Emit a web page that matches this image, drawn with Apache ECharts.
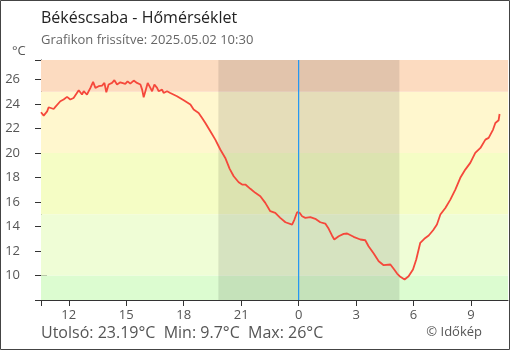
<!DOCTYPE html>
<html>
<head>
<meta charset="utf-8">
<script src="https://cdn.jsdelivr.net/npm/echarts@6/dist/echarts.min.js"></script>
<style>
html,body{margin:0;padding:0;background:#fff;}
#c{width:510px;height:350px;}
</style>
</head>
<body>
<div id="c"></div>
<script>
// hours relative to midnight (negative = previous day)
var hours = [-13.45,-13.31,-13.13,-13.05,-12.79,-12.70,-12.44,-12.27,-12.09,-11.92,-11.75,-11.48,-11.31,-11.22,-11.05,-10.87,-10.73,-10.61,-10.44,-10.26,-10.14,-10.04,-9.92,-9.74,-9.62,-9.48,-9.31,-9.05,-8.93,-8.79,-8.61,-8.44,-8.26,-8.17,-8.09,-8.00,-7.88,-7.74,-7.65,-7.53,-7.39,-7.31,-7.13,-7.05,-6.87,-6.79,-6.70,-6.35,-6.00,-5.65,-5.48,-5.22,-5.04,-4.87,-4.61,-4.35,-4.09,-3.83,-3.60,-3.39,-3.13,-2.95,-2.78,-2.52,-2.26,-2.00,-1.74,-1.48,-1.22,-0.96,-0.69,-0.34,-0.22,-0.08,0.05,0.18,0.35,0.61,0.87,1.13,1.39,1.57,1.74,1.86,2.09,2.35,2.53,2.87,3.22,3.48,3.65,3.92,4.18,4.44,4.79,4.96,5.14,5.31,5.53,5.74,5.97,6.14,6.35,6.56,6.79,7.02,7.22,7.40,7.66,7.92,8.18,8.44,8.70,8.96,9.22,9.49,9.75,9.92,10.15,10.27,10.44,10.49];
var temps = [23.33,23.06,23.40,23.74,23.60,23.77,24.23,24.37,24.59,24.37,24.50,25.13,24.78,25.05,24.78,25.32,25.81,25.32,25.46,25.51,25.73,24.97,25.60,25.73,25.95,25.60,25.78,25.65,25.86,25.67,25.92,25.73,25.60,25.18,24.56,25.05,25.73,25.32,25.05,25.60,25.32,25.05,25.18,24.91,25.05,25.18,24.91,24.64,24.31,23.96,23.55,23.28,22.87,22.46,21.78,21.10,20.29,19.60,18.71,18.11,17.62,17.43,17.43,17.08,16.75,16.48,15.93,15.25,15.12,14.71,14.35,14.16,14.57,15.17,15.12,14.84,14.71,14.76,14.63,14.35,14.24,13.81,13.27,12.94,13.21,13.40,13.43,13.16,12.94,12.88,12.39,11.80,11.17,10.84,10.90,10.55,10.16,9.89,9.67,9.94,10.49,11.31,12.67,13.00,13.27,13.70,14.16,14.98,15.52,16.20,17.02,17.98,18.65,19.20,20.02,20.42,21.10,21.24,21.92,22.46,22.68,23.19];
var xLabelHours = [-12,-9,-6,-3,0,3,6,9];
var xRange = [-13.45, 10.93];
var yRange = [8, 27.6];
var yLabelValues = [10,12,14,16,18,20,22,24,26];
var bandEdges = [8,10,15,20,25,27.6];
var bandColors = ['#dcfcd0','#effdd6','#f5fdc5','#fff7ce','#fcdbc0'];
var night = [-4.19, 5.26];
var midnight = 0;
var title = 'Békéscsaba - Hőmérséklet';
var subtitle = 'Grafikon frissítve: 2025.05.02 10:30';
var footer = 'Utolsó: 23.19°C  Min: 9.7°C  Max: 26°C';
var credit = '© Időkép';

var FONT = '"Open Sans", sans-serif';
var lineData = hours.map(function(h,i){return [h,temps[i]];});
var bands = [];
for (var i=0;i<bandColors.length;i++){
  bands.push([{yAxis:bandEdges[i], itemStyle:{color:bandColors[i]}, label:{show:false}},{yAxis:bandEdges[i+1]}]);
}
function fmtH(v){ return String(((Math.round(v)%24)+24)%24); }

var chart = echarts.init(document.getElementById('c'), null, {renderer:'canvas'});
var axisCommonX = {type:'value', min:xRange[0], max:xRange[1], splitLine:{show:false}, position:'bottom'};
var axisCommonY = {type:'value', min:yRange[0], max:yRange[1], interval:2, splitLine:{show:false}, position:'left'};
var xTickVals = [xRange[0]].concat(xLabelHours);
chart.setOption({
  animation:false,
  grid:{left:41, right:2, top:60, bottom:50, containLabel:false, outerBoundsMode:'none'},
  xAxis:[
    Object.assign({}, axisCommonX, {
      axisLine:{show:true, onZero:false, lineStyle:{color:'#333', width:1}},
      axisTick:{show:true, length:6, inside:false, customValues:xTickVals, lineStyle:{color:'#333'}},
      axisLabel:{show:true, customValues:xLabelHours, formatter:fmtH, color:'#555', fontSize:13, fontFamily:FONT, margin:9}
    }),
    Object.assign({}, axisCommonX, {
      axisLine:{show:false, onZero:false},
      axisTick:{show:true, length:6, inside:true, customValues:xTickVals, lineStyle:{color:'#333'}},
      axisLabel:{show:false}
    })
  ],
  yAxis:[
    Object.assign({}, axisCommonY, {
      axisLine:{show:true, onZero:false, lineStyle:{color:'#333', width:1}},
      axisTick:{show:true, length:6, inside:false, lineStyle:{color:'#333'}},
      axisLabel:{show:true, customValues:yLabelValues, color:'#555', fontSize:13, fontFamily:FONT, margin:21}
    }),
    Object.assign({}, axisCommonY, {
      axisLine:{show:false, onZero:false},
      axisTick:{show:true, length:6, inside:true, lineStyle:{color:'#333'}},
      axisLabel:{show:false}
    })
  ],
  series:[
    {type:'line', data:[], z:1, silent:true,
      markArea:{silent:true, data:bands, itemStyle:{opacity:1}, label:{show:false}}},
    {type:'line', data:[], z:2, silent:true,
      markArea:{silent:true, label:{show:false}, data:[[{xAxis:night[0], itemStyle:{color:'rgba(0,0,0,0.1)'}},{xAxis:night[1]}]]}},
    {type:'line', data:lineData, z:3, showSymbol:false, symbol:'none',
      lineStyle:{color:'#f5483b', width:1.8}},
    {type:'line', data:[[midnight, yRange[0]],[midnight, yRange[1]]], z:4, silent:true,
      showSymbol:false, symbol:'none', lineStyle:{color:'#2196f3', width:1.2}}
  ],
  graphic:[
    {type:'rect', shape:{x:0.5,y:0.5,width:509,height:349}, style:{fill:'none', stroke:'#444', lineWidth:1}, z:100},
    {type:'text', left:41, top:10, style:{text:title, font:'16px '+FONT, fill:'#222'}},
    {type:'text', left:41, top:34, style:{text:subtitle, font:'13px '+FONT, fill:'#666'}},
    {type:'text', left:12, top:45, style:{text:'°C', font:'13px '+FONT, fill:'#555'}},
    {type:'text', left:41, top:325, style:{text:footer, font:'16px '+FONT, fill:'#555'}},
    {type:'text', right:28, top:326, style:{text:credit, font:'13px '+FONT, fill:'#555'}}
  ]
});
</script>
</body>
</html>
